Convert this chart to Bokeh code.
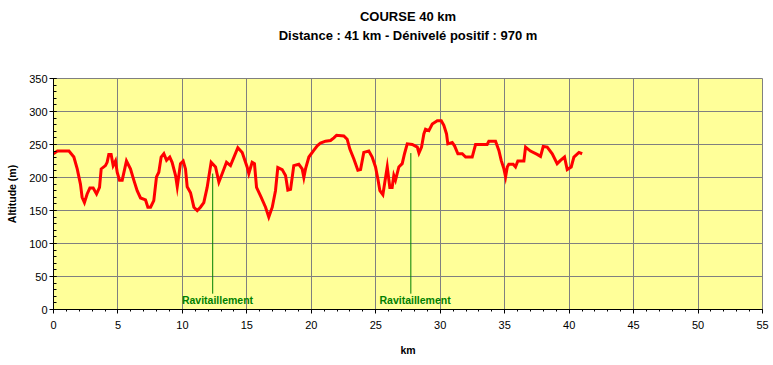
from bokeh.plotting import figure
from bokeh.models import SingleIntervalTicker, Title, ColumnDataSource, Range1d
from bokeh.core.properties import value
from bokeh.embed import file_html
from bokeh.resources import INLINE

# ---- data ----
km = [0.0, 0.3, 1.2, 1.58, 1.84, 2.09, 2.22, 2.40, 2.61, 2.82, 3.08, 3.34, 3.57, 3.70,
      4.03, 4.16, 4.29, 4.47, 4.63, 4.81, 4.94, 5.12, 5.33, 5.66, 5.97, 6.23, 6.49, 6.75,
      7.14, 7.32, 7.53, 7.78, 7.99, 8.17, 8.35, 8.56, 8.77, 9.02, 9.20, 9.47, 9.60, 9.85,
      10.06, 10.24, 10.37, 10.63, 10.89, 11.15, 11.40, 11.66, 11.92, 12.05, 12.23, 12.57,
      12.83, 13.09, 13.42, 13.73, 14.30, 14.64, 15.02, 15.15, 15.41, 15.59, 15.75, 16.06,
      16.45, 16.70, 16.97, 17.22, 17.40, 17.74, 18.00, 18.18, 18.39, 18.64, 19.03, 19.29,
      19.42, 19.55, 19.81, 20.19, 20.46, 20.71, 21.10, 21.49, 21.75, 21.96, 22.52, 22.78,
      22.99, 23.30, 23.61, 23.82, 24.07, 24.46, 24.72, 24.98, 25.16, 25.32, 25.55, 25.68,
      25.89, 26.09, 26.27, 26.40, 26.53, 26.79, 27.05, 27.23, 27.44, 27.83, 28.22, 28.35,
      28.55, 28.73, 28.86, 29.12, 29.38, 29.77, 30.08, 30.28, 30.49, 30.59, 30.93, 31.11,
      31.37, 31.71, 31.97, 32.48, 32.74, 33.64, 33.77, 34.29, 34.55, 34.73, 34.94, 35.07,
      35.20, 35.32, 35.66, 35.84, 36.02, 36.49, 36.62, 37.00, 37.52, 37.78, 37.99, 38.30,
      38.69, 39.07, 39.33, 39.64, 39.85, 40.16, 40.37, 40.76, 41.01]
altitude = [236, 240, 240, 231, 213, 190, 170, 162, 175, 184, 184, 175, 185, 213,
            218, 223, 235, 235, 218, 225, 208, 196, 196, 225, 213, 196, 180, 169,
            166, 155, 155, 165, 201, 208, 231, 236, 226, 231, 223, 203, 186, 221,
            225, 213, 186, 177, 155, 150, 155, 162, 185, 201, 223, 216,
            193, 206, 223, 218, 245, 238, 216, 206, 223, 221, 185, 172,
            155, 140, 155, 180, 215, 212, 203, 181, 182, 218, 220, 213,
            200, 213, 231, 241, 248, 252, 255, 256, 260, 264, 263, 258,
            243, 228, 211, 212, 238, 240, 231, 216, 198, 180, 174, 190,
            216, 185, 185, 203, 196, 216, 221, 236, 251, 250, 246, 237,
            246, 266, 273, 271, 281, 286, 286, 279, 266, 251, 253, 248,
            236, 236, 231, 231, 250, 250, 255, 255, 241, 226, 213, 201,
            216, 220, 220, 216, 225, 225, 246, 240, 235, 232, 247, 246,
            236, 221, 226, 231, 212, 216, 231, 238, 236]

ravito_km = [12.35, 27.72]
ravito_top = [206, 237]
ravito_bottom = [24, 24]
ravito_label = ["Ravitaillement", "Ravitaillement"]
ravito_label_km = [12.72, 28.05]
ravito_label_alt = [15, 15]

title_line1 = "COURSE 40 km"
title_line2 = "Distance : 41 km - Dénivelé positif : 970 m"
x_label = "km"
y_label = "Altitude (m)"

FONT = "Liberation Sans"

p = figure(width=773, height=365, output_backend="svg", toolbar_location=None,
           x_range=Range1d(0, 55), y_range=Range1d(0, 350),
           min_border_left=53, min_border_right=11, min_border_top=78, min_border_bottom=56)
p.background_fill_color = "#FFFF99"
p.border_fill_color = "white"
p.outline_line_color = "#808080"
p.outline_line_width = 1

p.xaxis.ticker = SingleIntervalTicker(interval=5, num_minor_ticks=5)
p.yaxis.ticker = SingleIntervalTicker(interval=50, num_minor_ticks=5)
p.xgrid.grid_line_color = "#808080"
p.ygrid.grid_line_color = "#808080"
p.xgrid.grid_line_width = 1
p.ygrid.grid_line_width = 1

for ax in (p.xaxis, p.yaxis):
    ax.axis_line_color = "black"
    ax.major_tick_line_color = "black"
    ax.minor_tick_line_color = "black"
    ax.major_label_text_font = FONT
    ax.major_label_text_font_size = "11px"
    ax.major_label_text_color = "black"
    ax.axis_label_text_font = FONT
    ax.axis_label_text_font_size = "10.5px"
    ax.axis_label_text_font_style = "bold"
    ax.axis_label_text_color = "black"

p.xaxis.axis_label = x_label
p.yaxis.axis_label = y_label
p.xaxis.major_tick_out = 4
p.xaxis.major_tick_in = 0
p.xaxis.minor_tick_out = 2
p.xaxis.minor_tick_in = 0
p.xaxis.major_label_standoff = 7
p.xaxis.axis_label_standoff = 12
p.yaxis.major_tick_out = 4
p.yaxis.major_tick_in = 3
p.yaxis.minor_tick_out = 0
p.yaxis.minor_tick_in = 3
p.yaxis.major_label_standoff = 2
p.yaxis.axis_label_standoff = 8

src = ColumnDataSource(dict(km=km, alt=altitude))
p.line("km", "alt", source=src, line_color="#FF0000", line_width=3, line_join="miter")

p.segment(x0=ravito_km, y0=ravito_bottom, x1=ravito_km, y1=ravito_top,
          line_color="#008000", line_width=1)
p.text(x=ravito_label_km, y=ravito_label_alt, text=ravito_label,
       text_font=value(FONT), text_font_size="10.5px", text_font_style="bold",
       text_color="#008000", text_align="center", text_baseline="middle")

# titles: first added sits closest to the frame (first one is an empty spacer)
p.add_layout(Title(text=" ", align="center", text_font=FONT, text_font_size="13px",
                   text_color="white", standoff=17), "above")
p.add_layout(Title(text=title_line2, align="center", text_font=FONT, text_font_size="13px",
                   text_font_style="bold", text_color="black", standoff=4), "above")
p.add_layout(Title(text=title_line1, align="center", text_font=FONT, text_font_size="13px",
                   text_font_style="bold", text_color="black", standoff=0), "above")

open("out.html", "w").write(file_html(p, INLINE))
